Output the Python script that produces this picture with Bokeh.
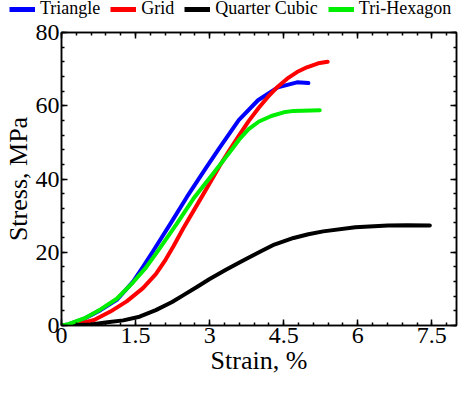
from bokeh.plotting import figure
from bokeh.models import (Range1d, FixedTicker, LinearAxis, Legend, LegendItem)
from bokeh.layouts import column
from bokeh.embed import file_html
from bokeh.resources import INLINE

# ---- data ----
tri_x = [0, 0.14, 0.47, 0.79, 1.12, 1.45, 1.65, 1.85, 2.21, 2.54, 2.93, 3.2, 3.59, 3.98, 4.38, 4.77, 5.0]
tri_y = [0, 0.3, 1.9, 4.2, 7.0, 12.0, 16.0, 20.2, 27.9, 35.1, 43.1, 48.5, 56.1, 61.5, 65.0, 66.4, 66.2]

grid_x = [0, 0.33, 0.66, 0.99, 1.32, 1.65, 1.91, 2.11, 2.27, 2.47, 2.87, 3.2, 3.39, 3.6, 3.79,
          4.0, 4.18, 4.38, 4.57, 4.77, 4.97, 5.2, 5.39]
grid_y = [0, 0.35, 1.5, 3.8, 6.6, 10.2, 14.0, 18.0, 21.7, 26.6, 35.8, 43.5, 47.6, 52.0, 55.8,
          59.5, 62.4, 65.2, 67.4, 69.2, 70.5, 71.6, 72.0]

qc_x = [0, 0.6, 0.93, 1.25, 1.58, 1.91, 2.24, 2.47, 2.75, 3.0, 3.33, 3.66, 4.0, 4.31, 4.70,
        5.0, 5.30, 5.95, 6.61, 7.0, 7.46]
qc_y = [0, 0.3, 0.9, 1.4, 2.4, 4.2, 6.4, 8.3, 10.6, 12.7, 15.2, 17.6, 20.0, 22.1, 23.9,
        24.9, 25.7, 26.8, 27.3, 27.4, 27.3]

hex_x = [0, 0.14, 0.47, 0.79, 1.12, 1.45, 1.71, 1.95, 2.34, 2.67, 3.06, 3.39, 3.6, 3.79,
         4.0, 4.25, 4.5, 4.7, 5.23]
hex_y = [0, 0.35, 2.0, 4.4, 7.3, 11.8, 15.8, 20.3, 27.9, 34.6, 41.3, 47.0, 50.8, 53.6,
         55.7, 57.2, 58.2, 58.6, 58.8]

series_names = ["Triangle", "Grid", "Quarter Cubic", "Tri-Hexagon"]
series_colors = ["#0000ff", "#ff0000", "#000000", "#00ee00"]

x_ticks = [0, 1.5, 3, 4.5, 6, 7.5]
x_tick_labels = ["0", "1.5", "3", "4.5", "6", "7.5"]
x_minor = [round(i * 0.3, 2) for i in range(0, 27)]
y_ticks = [0, 20, 40, 60, 80]
y_tick_labels = ["0", "20", "40", "60", "80"]
y_minor = [i * 4 for i in range(0, 21)]

FONT = "Liberation Serif"

# ---------- main plot ----------
p = figure(width=458, height=357, output_backend="svg", toolbar_location=None,
           x_range=Range1d(0, 8), y_range=Range1d(0, 80),
           min_border_left=0, min_border_right=2, min_border_top=12, min_border_bottom=0,
           x_axis_label="Strain, %", y_axis_label="Stress, MPa")
p.frame_align = False
p.grid.visible = False
p.outline_line_color = "black"
p.outline_line_width = 1.5

for xs, ys, c in zip([tri_x, grid_x, qc_x, hex_x], [tri_y, grid_y, qc_y, hex_y], series_colors):
    p.line(xs, ys, line_color=c, line_width=4, line_cap="round", line_join="round")

def style_axis(ax, ticks, minor, labels, show_labels=True):
    ax.ticker = FixedTicker(ticks=ticks, minor_ticks=minor)
    ax.axis_line_color = "black"
    ax.axis_line_width = 1.5
    ax.major_tick_in = 6
    ax.major_tick_out = 0
    ax.minor_tick_in = 3
    ax.minor_tick_out = 0
    ax.major_tick_line_width = 1.5
    ax.minor_tick_line_width = 1.5
    ax.major_tick_line_color = "black"
    ax.minor_tick_line_color = "black"
    if show_labels:
        ax.major_label_overrides = {t: l for t, l in zip(ticks, labels)}
        ax.major_label_text_font = FONT
        ax.major_label_text_color = "black"
        ax.major_label_text_font_size = "24px"
        ax.major_label_standoff = 2
        ax.axis_label_text_font = FONT
        ax.axis_label_text_font_size = "26px"
        ax.axis_label_text_font_style = "normal"
        ax.axis_label_text_color = "black"
        ax.axis_label_standoff = 0
    else:
        ax.major_label_text_font_size = "1px"
        ax.major_label_text_alpha = 0
        ax.major_label_standoff = 0

style_axis(p.xaxis[0], x_ticks, x_minor, x_tick_labels)
style_axis(p.yaxis[0], y_ticks, y_minor, y_tick_labels)

top_ax = LinearAxis()
style_axis(top_ax, x_ticks, x_minor, x_tick_labels, show_labels=False)
p.add_layout(top_ax, "above")
right_ax = LinearAxis()
style_axis(right_ax, y_ticks, y_minor, y_tick_labels, show_labels=False)
p.add_layout(right_ax, "right")

# ---------- legend strip above the plot ----------
lg = figure(width=458, height=20, output_backend="svg", toolbar_location=None,
            x_range=Range1d(0, 1), y_range=Range1d(0, 1),
            x_axis_type=None, y_axis_type=None,
            min_border_left=0, min_border_right=0, min_border_top=0, min_border_bottom=0)
lg.frame_align = False
lg.grid.visible = False
lg.outline_line_color = None
nan = float("nan")
dummies = [lg.line([nan], [nan], line_color=c, line_width=5) for c in series_colors]
legend = Legend(items=[LegendItem(label=n, renderers=[r]) for n, r in zip(series_names, dummies)],
                orientation="horizontal", location=(9, 1),
                label_text_font=FONT, label_text_font_size="18px", label_text_color="black",
                label_height=18, glyph_height=16, glyph_width=26,
                label_standoff=5, spacing=10, padding=0, margin=0,
                border_line_alpha=0, background_fill_alpha=0)
lg.add_layout(legend, "center")

layout = column(lg, p, spacing=0)
open("out.html", "w").write(file_html(layout, INLINE))
